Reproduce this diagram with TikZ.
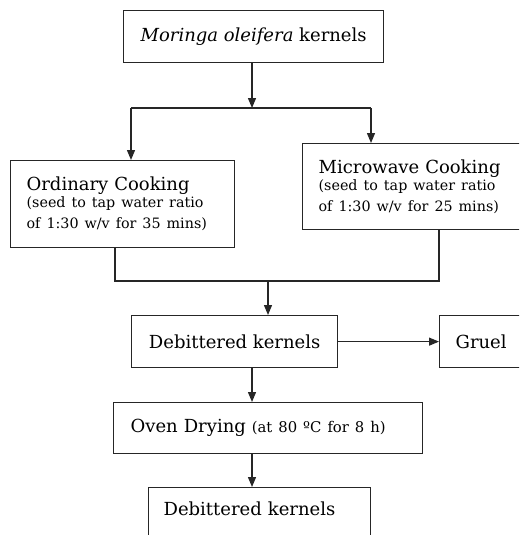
\documentclass[tikz,border=0pt]{standalone}
\usepackage{fontspec}
\setmainfont{DejaVu Serif}
\usetikzlibrary{arrows.meta}
\begin{document}
\begin{tikzpicture}[x=1pt,y=-1pt,
  box/.style={draw=black!85,line width=1.25pt,rectangle,inner ysep=0pt,font=\fontsize{18}{21}\selectfont},
  conn/.style={draw=black!85,line width=1.25pt},
  arr/.style={conn,-{Triangle[length=10pt,width=8pt]}}]
\clip (0,0) rectangle (519,535);
\fill[white] (0,0) rectangle (519,535);
% top
\node[box,anchor=north west,minimum width=260pt,minimum height=52pt,align=center] (top) at (123,10)
  {\textit{Moringa oleifera} kernels};
% ordinary
\node[box,anchor=north west,minimum height=87pt,inner xsep=16pt,text width=192pt,align=left] (ord) at (10,160)
  {Ordinary Cooking\\[-1pt]{\fontsize{14.3}{18}\selectfont (seed to tap water ratio\\ of 1:30 w/v for 35 mins)}};
% microwave
\node[box,anchor=north west,minimum height=86pt,inner xsep=16pt,text width=210pt,align=left] (mic) at (302,143)
  {Microwave Cooking\\[-1pt]{\fontsize{14.3}{18}\selectfont (seed to tap water ratio\\ of 1:30 w/v for 25 mins)}};
% debittered
\node[box,anchor=north west,minimum width=206pt,minimum height=52pt,align=center] (deb) at (131,315)
  {Debittered kernels};
% gruel
\node[box,anchor=north west,minimum height=52pt,inner xsep=16pt,text width=100pt,align=left] (gru) at (439,315)
  {Gruel};
% oven
\node[box,anchor=north west,minimum height=51pt,inner xsep=17pt,text width=275pt,align=left] (ov) at (113,402)
  {Oven Drying {\fontsize{14.8}{18}\selectfont (at 80 ºC for 8 h)}};
% last
\node[box,anchor=north west,inner xsep=15pt,text width=192pt,align=left,text height=28pt,text depth=40pt] (last) at (148,487)
  {Debittered kernels};
% connectors
\coordinate (split) at (252,108);
\coordinate (sl) at (131,108);
\coordinate (sr) at (371,108);
\draw[arr] (top.south -| split) -- (split);
\draw[conn] (sl) -- (sr);
\draw[arr] (sl) -- (sl |- ord.north);
\draw[arr] (sr) -- (sr |- mic.north);
\coordinate (ml) at (115,281);
\coordinate (mr) at (439,281);
\coordinate (mm) at (268,281);
\draw[conn] (ml |- ord.south) -- (ml) -- (mr) -- (mr |- mic.south);
\draw[arr] (mm) -- (mm |- deb.north);
\draw[arr] (deb.east) -- (gru.west);
\coordinate (cx) at (252,0);
\draw[arr] (deb.south -| cx) -- (ov.north -| cx);
\draw[arr] (ov.south -| cx) -- (last.north -| cx);
\end{tikzpicture}
\end{document}
